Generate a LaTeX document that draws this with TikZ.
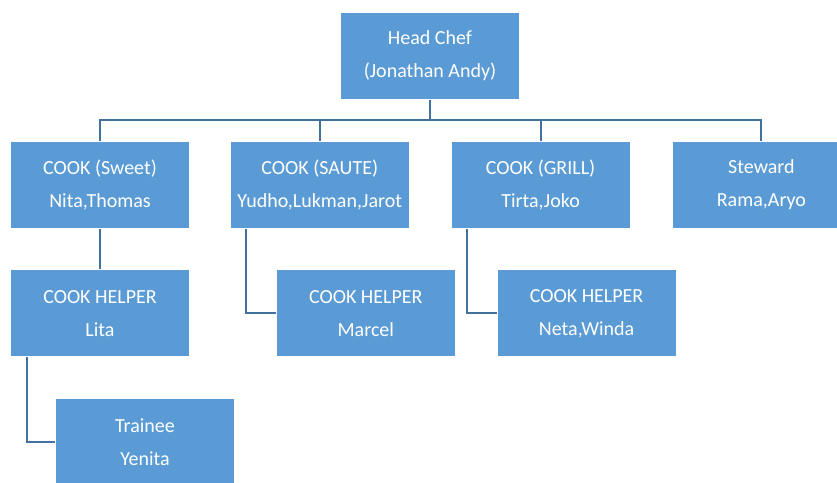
\documentclass[tikz,border=0pt]{standalone}
\usepackage{fontspec}
\setmainfont{Carlito}
\usetikzlibrary{positioning, backgrounds}
\definecolor{chefBlue}{HTML}{5B9BD5}
\definecolor{chefLine}{HTML}{41719C}
\tikzset{
  boxBlue/.style={rectangle, draw=white, line width=0.8pt, fill=chefBlue,
                  text=white, align=center, inner sep=0pt,
                  font=\fontsize{20}{33}\selectfont,
                  minimum width=179pt, minimum height=87pt},
  lineB/.style={chefLine, line width=2pt},
}
\begin{document}
\begin{tikzpicture}[x=1pt, y=1pt]
  \useasboundingbox (0,0) rectangle (837,-482);
  \node[boxBlue] (head) at (430,-55.5) {Head Chef\\(Jonathan Andy)};
  \node[boxBlue] (sweet) at (100,-184.5) {COOK (Sweet)\\Nita,Thomas};
  \node[boxBlue, right=40pt of sweet] (saute) {COOK (SAUTE)\\Yudho,Lukman,Jarot};
  \node[boxBlue, right=41pt of saute] (grill) {COOK (GRILL)\\Tirta,Joko};
  \node[boxBlue, right=41pt of grill] (steward) {Steward\\Rama,Aryo};
  \node[boxBlue, below=41pt of sweet] (lita) {COOK HELPER\\Lita};
  \node[boxBlue, below=41pt of saute, xshift=46pt] (marcel) {COOK HELPER\\Marcel};
  \node[boxBlue, below=41pt of grill, xshift=46pt] (neta) {COOK HELPER\\Neta,Winda};
  \node[boxBlue, below=41pt of lita, xshift=45pt] (trainee) {Trainee\\Yenita};
  % connectors
  \begin{scope}[on background layer]
  \draw[lineB] (head.south) -- ++(0,-21) coordinate (bus);
  \draw[lineB] (sweet.north) |- (bus) -| (steward.north);
  \draw[lineB] (bus) -| (saute.north);
  \draw[lineB] (bus) -| (grill.north);
  \draw[lineB] (sweet.south) -- (lita.north);
  \draw[lineB] ([xshift=16.5pt]saute.south west) |- (marcel.west);
  \draw[lineB] ([xshift=16.5pt]grill.south west) |- (neta.west);
  \draw[lineB] ([xshift=17pt]lita.south west) |- (trainee.west);
  \end{scope}
\end{tikzpicture}
\end{document}
